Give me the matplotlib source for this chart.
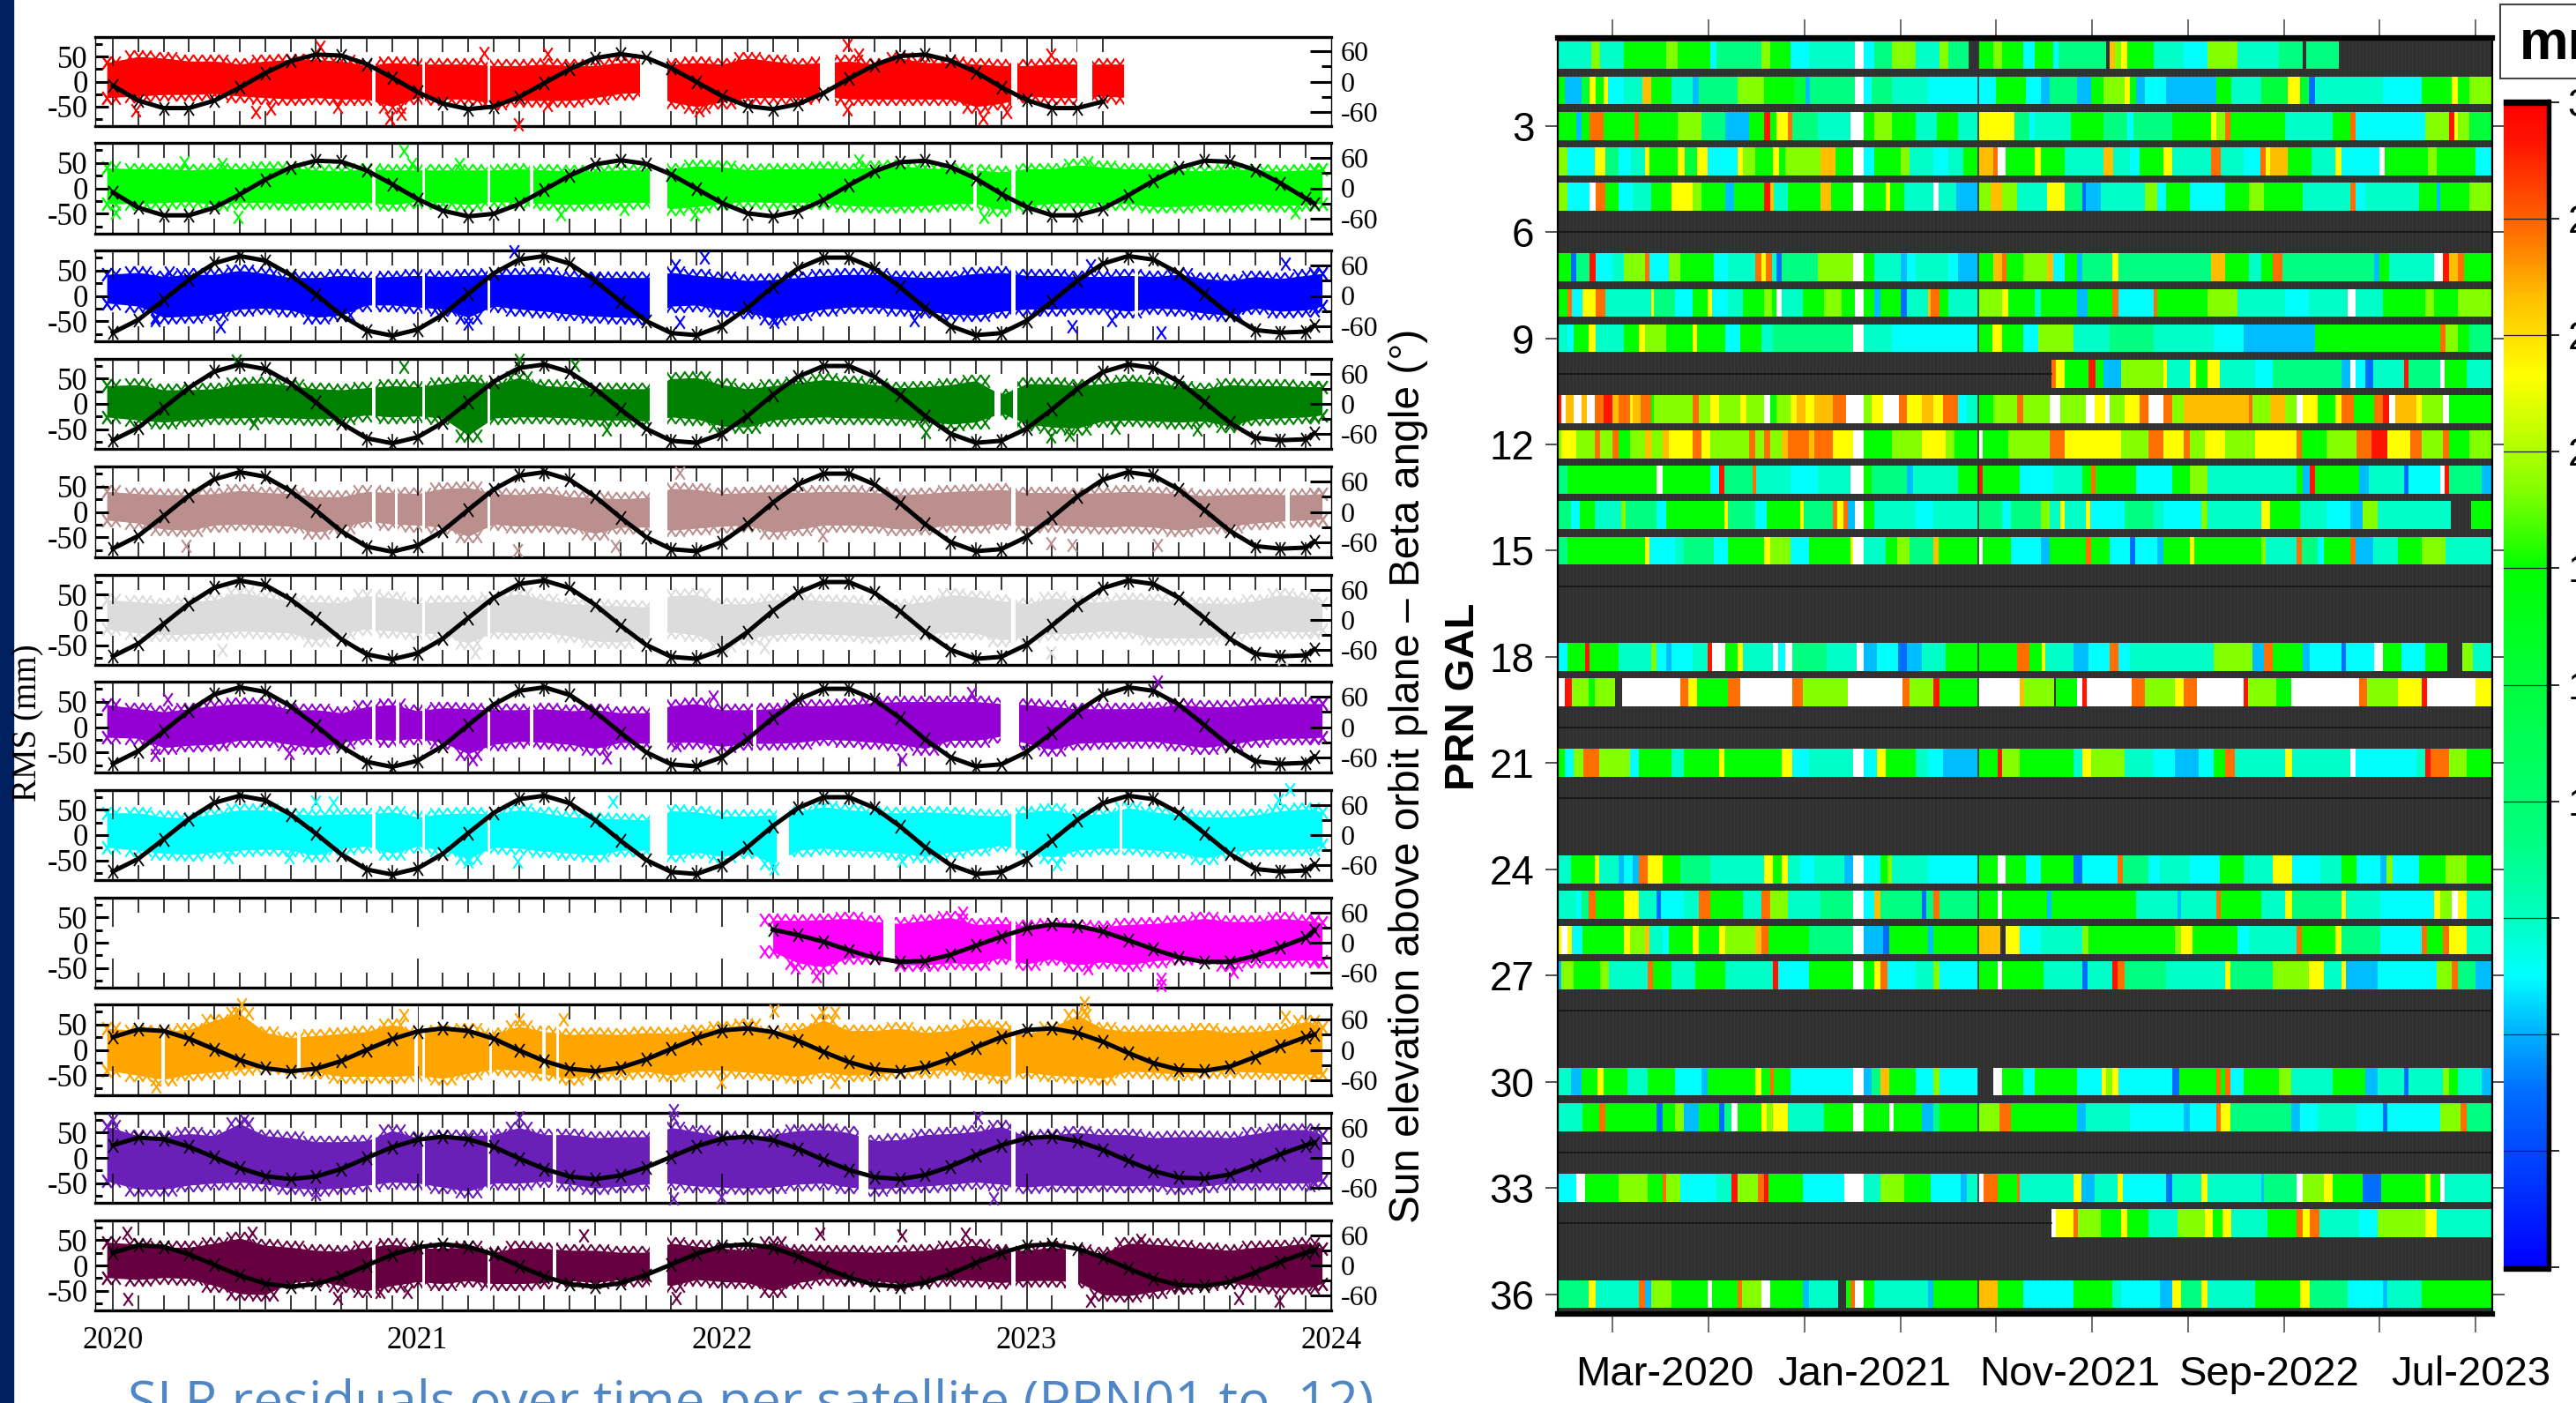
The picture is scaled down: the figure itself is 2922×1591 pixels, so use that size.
import numpy as np
import matplotlib
matplotlib.use("Agg")
import matplotlib.pyplot as plt
from matplotlib.colors import LinearSegmentedColormap, Normalize
from matplotlib.colorbar import Colorbar
from matplotlib.patches import Rectangle
from matplotlib.path import Path
from matplotlib.ticker import FixedLocator

W, H = 2922, 1591
nan = float("nan")

# residual panels
COLORS = ["#ff0000", "#00ff00", "#0000ff", "#008000", "#bc8f8f", "#dcdcdc",
          "#9400d3", "#00ffff", "#ff00ff", "#ffa500", "#6a1fb8", "#660040"]
PANEL_TOP = [42, 162, 284, 407, 529, 652, 773, 896, 1018, 1139, 1262, 1384]
PANEL_BOTTOM = [143, 265, 387, 509, 632, 754, 876, 998, 1120, 1242, 1364, 1486]

MONTHS = [2020 + k / 12 for k in range(49)]

BETA_A = [-8, -38, -53, -53, -38, -12, 17, 41, 54, 52, 35, 8, -21, -44, -55, -50, -31, -3, 25, 47, 55, 48, 27, -1, -29,
          -49, -55, -45, -23, 6, 33, 51, 54, 42, 19, -11, -37, -53, -53, -40, -14, 15, 40, 54, 52, 36, 10, -20, -30]
BETA_B = [-72, -47, -8, 32, 64, 78, 69, 41, 3, -38, -68, -78, -66, -37, 4, 44, 71, 78, 63, 30, -11, -49, -73, -77, -59,
          -24, 18, 54, 75, 75, 54, 18, -24, -59, -77, -73, -49, -11, 30, 63, 78, 71, 44, 4, -37, -67, -72, -70, -58]
BETA_C = [nan] * 26 + [26, 15, 2, -15, -30, -38, -36, -24, -6, 12, 28, 36, 33, 22, 5, -13, -29, -38, -38, -26, -9, 10, 25]
BETA_D = [25, 40, 37, 22, 1, -20, -36, -42, -37, -22, 0, 21, 36, 42, 37, 22, -1, -22, -37, -42, -35, -19, 2, 23, 38,
          42, 35, 18, -4, -24, -38, -42, -34, -17, 5, 25, 39, 42, 33, 16, -6, -26, -39, -41, -33, -14, 7, 25, 30]
BETA_P1 = BETA_A[:40] + [nan] * 9
PANEL_BETA = [BETA_P1, BETA_A, BETA_B, BETA_B, BETA_B, BETA_B, BETA_B, BETA_B, BETA_C, BETA_D, BETA_D, BETA_D]

TOP_1 = [38, 50, 47, 41, 41, 35, 41, 44, 44, 41, 32, 38, 35, 35, 35, 32, 32, 35, 32, 32, 38, 38, 35, 38, 35, 47, 41, 35, 38, 41, 35, 47, 38, 38, 35, 32, 32, 35, 35, 35, 35, 35, 35, 35, 35, 35, 35, 35, 35]
BOT_1 = [-32, -29, -26, -26, -24, -29, -32, -35, -32, -35, -35, -50, -32, -35, -35, -44, -38, -38, -38, -32, -24, -22, -41, -50, -41, -32, -32, -32, -29, -35, -35, -35, -35, -35, -50, -44, -29, -32, -32, -29, -32, -32, -32, -32, -32, -32, -32, -32, -32]
TOP_2 = [40, 38, 38, 36, 38, 38, 40, 40, 36, 34, 38, 36, 36, 36, 36, 36, 38, 36, 34, 34, 36, 36, 38, 44, 42, 36, 38, 38, 40, 38, 42, 44, 40, 38, 36, 32, 38, 38, 46, 42, 38, 38, 36, 34, 38, 36, 34, 36, 38]
BOT_2 = [-30, -30, -28, -26, -32, -28, -28, -30, -28, -28, -28, -32, -26, -28, -32, -26, -28, -30, -32, -30, -28, -28, -40, -36, -30, -26, -28, -28, -28, -34, -36, -36, -34, -30, -30, -42, -34, -30, -28, -30, -30, -36, -36, -32, -34, -30, -34, -32, -30]
TOP_3 = [42, 46, 38, 42, 42, 50, 44, 36, 36, 40, 36, 38, 40, 38, 40, 42, 42, 44, 38, 36, 36, 36, 46, 40, 36, 30, 32, 36, 40, 42, 42, 38, 36, 38, 44, 46, 40, 40, 38, 38, 40, 38, 42, 34, 30, 38, 34, 40, 44]
BOT_3 = [-14, -20, -42, -40, -36, -26, -24, -28, -42, -38, -18, -18, -22, -26, -42, -20, -26, -30, -36, -40, -42, -44, -20, -18, -28, -32, -44, -36, -26, -22, -22, -26, -30, -36, -38, -30, -26, -26, -24, -24, -30, -24, -26, -34, -38, -24, -30, -28, -20]
TOP_4 = [36, 38, 28, 28, 30, 40, 42, 36, 30, 28, 32, 36, 34, 40, 46, 38, 52, 36, 34, 30, 30, 30, 50, 52, 38, 30, 36, 42, 48, 44, 38, 32, 34, 38, 46, 18, 40, 40, 36, 40, 46, 42, 34, 30, 38, 36, 36, 34, 34]
BOT_4 = [-26, -32, -36, -32, -28, -28, -26, -28, -30, -28, -22, -26, -24, -28, -62, -28, -26, -26, -28, -32, -32, -34, -26, -30, -44, -46, -32, -28, -26, -28, -28, -30, -34, -40, -36, -18, -40, -46, -48, -34, -32, -34, -36, -34, -44, -30, -28, -26, -22]
TOP_5 = [40, 36, 34, 34, 36, 42, 38, 36, 30, 30, 40, 38, 36, 46, 48, 36, 34, 38, 30, 28, 26, 28, 46, 44, 36, 38, 40, 38, 40, 40, 38, 34, 36, 40, 42, 44, 38, 38, 36, 38, 40, 38, 36, 32, 34, 36, 34, 34, 36]
BOT_5 = [-16, -22, -34, -36, -26, -24, -26, -28, -40, -30, -18, -24, -26, -30, -48, -24, -28, -26, -30, -42, -30, -30, -36, -32, -28, -26, -40, -34, -26, -26, -28, -34, -32, -26, -28, -22, -28, -26, -28, -30, -28, -30, -36, -30, -28, -22, -18, -16, -14]
TOP_6 = [40, 36, 32, 36, 40, 54, 46, 36, 36, 34, 48, 44, 34, 36, 36, 44, 52, 40, 32, 30, 28, 26, 48, 50, 32, 32, 40, 42, 38, 36, 30, 30, 36, 50, 46, 38, 32, 44, 36, 36, 42, 40, 34, 34, 32, 38, 50, 44, 34]
BOT_6 = [-18, -26, -30, -28, -26, -22, -24, -26, -40, -26, -18, -22, -26, -28, -46, -24, -26, -24, -32, -42, -44, -32, -24, -30, -50, -36, -30, -26, -28, -30, -34, -30, -28, -24, -26, -40, -32, -28, -26, -22, -24, -36, -36, -36, -30, -24, -22, -24, -20]
TOP_7 = [44, 36, 30, 36, 42, 46, 46, 34, 34, 28, 40, 44, 32, 38, 36, 34, 34, 36, 32, 34, 28, 28, 42, 46, 34, 34, 36, 42, 42, 44, 48, 50, 50, 50, 50, 46, 44, 40, 36, 36, 36, 38, 44, 40, 40, 44, 46, 46, 46]
BOT_7 = [-20, -22, -40, -36, -34, -26, -26, -34, -40, -30, -22, -26, -22, -30, -52, -34, -28, -30, -34, -42, -30, -32, -30, -30, -38, -32, -32, -30, -24, -26, -30, -34, -42, -26, -26, -18, -32, -44, -32, -30, -28, -28, -34, -40, -34, -26, -22, -22, -20]
TOP_8 = [44, 44, 36, 34, 42, 50, 50, 42, 40, 42, 42, 46, 36, 42, 44, 42, 50, 44, 36, 34, 32, 30, 48, 46, 38, 38, 40, 46, 56, 50, 46, 44, 46, 44, 40, 38, 46, 50, 40, 42, 54, 46, 40, 36, 36, 40, 48, 52, 46]
BOT_8 = [-24, -30, -36, -38, -34, -30, -28, -30, -40, -26, -22, -36, -22, -30, -46, -24, -26, -32, -36, -40, -30, -30, -40, -34, -42, -34, -56, -30, -26, -30, -32, -36, -42, -34, -28, -20, -30, -44, -30, -26, -26, -30, -34, -46, -34, -28, -28, -28, -20]
TOP_9 = [nan] * 26 + [45, 44, 46, 48, 42, 38, 44, 50, 36, 38, 34, 36, 34, 32, 36, 38, 42, 48, 42, 42, 48, 44, 40]
BOT_9 = [nan] * 26 + [-18, -40, -48, -30, -30, -44, -44, -40, -42, -30, -42, -32, -44, -38, -44, -36, -32, -30, -44, -36, -36, -34, -36]
TOP_10 = [42, 38, 36, 40, 58, 72, 34, 24, 28, 32, 36, 50, 34, 38, 40, 32, 46, 36, 30, 32, 30, 34, 32, 38, 44, 50, 36, 40, 58, 38, 38, 42, 34, 38, 48, 44, 30, 44, 68, 42, 36, 38, 36, 40, 34, 36, 40, 56, 44]
BOT_10 = [-40, -50, -58, -48, -44, -38, -34, -36, -44, -52, -52, -52, -50, -56, -46, -38, -40, -48, -56, -48, -46, -42, -50, -40, -40, -44, -48, -52, -44, -50, -48, -44, -42, -38, -46, -52, -44, -50, -52, -56, -42, -44, -48, -44, -42, -44, -46, -48, -48]
TOP_11 = [62, 44, 42, 48, 44, 68, 44, 40, 32, 32, 34, 54, 40, 44, 44, 46, 60, 46, 46, 40, 42, 42, 60, 52, 42, 40, 46, 54, 56, 50, 34, 36, 46, 48, 52, 62, 42, 46, 50, 46, 46, 40, 42, 42, 40, 48, 56, 56, 46]
BOT_11 = [-46, -62, -62, -54, -50, -48, -52, -60, -62, -60, -54, -48, -50, -58, -66, -50, -50, -46, -52, -60, -56, -52, -50, -56, -58, -60, -58, -52, -50, -58, -62, -58, -56, -52, -48, -52, -58, -54, -56, -54, -56, -54, -60, -56, -50, -50, -50, -50, -46]
TOP_12 = [46, 42, 36, 36, 44, 54, 40, 36, 30, 28, 36, 42, 34, 34, 36, 26, 36, 34, 30, 30, 26, 26, 44, 38, 34, 30, 46, 30, 28, 28, 26, 28, 30, 36, 40, 30, 30, 36, 30, 24, 44, 42, 38, 34, 30, 36, 38, 44, 34]
BOT_12 = [-24, -28, -24, -26, -40, -56, -58, -34, -30, -40, -50, -40, -32, -36, -30, -36, -36, -34, -30, -34, -28, -30, -40, -28, -32, -34, -50, -34, -26, -28, -30, -36, -30, -28, -30, -34, -30, -30, -32, -58, -60, -52, -44, -36, -34, -40, -44, -44, -36]
TOPS = [TOP_1, TOP_2, TOP_3, TOP_4, TOP_5, TOP_6, TOP_7, TOP_8, TOP_9, TOP_10, TOP_11, TOP_12]
BOTS = [BOT_1, BOT_2, BOT_3, BOT_4, BOT_5, BOT_6, BOT_7, BOT_8, BOT_9, BOT_10, BOT_11, BOT_12]

# data gaps, in years after 2020
GAPS = [
    [(.85, .862), (1.015, 1.025), (1.23, 1.24), (1.73, 1.82), (2.32, 2.37), (2.95, 2.97), (3.165, 3.216), (3.32, 4.1)],
    [(.85, .862), (1.015, 1.025), (1.23, 1.24), (1.37, 1.38), (1.762, 1.82), (2.825, 2.835), (2.95, 2.965)],
    [(.85, .862), (1.015, 1.025), (1.23, 1.24), (1.762, 1.82), (2.95, 2.965), (3.355, 3.365)],
    [(.85, .862), (1.015, 1.025), (1.23, 1.24), (1.762, 1.82), (2.895, 2.915), (2.955, 2.97)],
    [(.85, .862), (.925, .935), (1.015, 1.025), (1.23, 1.24), (1.762, 1.82), (2.95, 2.965), (3.85, 3.865)],
    [(.85, .862), (1.015, 1.025), (1.23, 1.24), (1.762, 1.82), (2.95, 2.965)],
    [(.85, .862), (.93, .94), (1.015, 1.025), (1.23, 1.24), (1.37, 1.38), (1.762, 1.82), (2.1, 2.112), (2.915, 2.975)],
    [(.85, .862), (1.015, 1.025), (1.23, 1.24), (1.762, 1.82), (2.18, 2.22), (2.95, 2.965), (3.305, 3.315)],
    [(2.53, 2.567), (2.95, 2.965)],
    [(.16, .17), (.605, .615), (.99, 1.0), (1.015, 1.025), (1.235, 1.245), (1.41, 1.42), (1.455, 1.465), (2.95, 2.965)],
    [(.85, .862), (1.015, 1.025), (1.23, 1.24), (1.445, 1.455), (1.762, 1.82), (2.45, 2.48), (2.95, 2.965)],
    [(.85, .862), (1.015, 1.025), (1.23, 1.24), (1.445, 1.455), (1.762, 1.82), (2.95, 2.965), (3.13, 3.17)],
]

# points well outside the band: years after 2020, residual in mm
OUT_X = [
    [.68, 1.217, 1.427, 2.41, 2.45, 3.08, .076, .47, .517, .737, .91, .947, 1.33, 1.427, 1.925, 2.41, 2.856, 2.934],
    [.955, .98, .234, .36, 1.138, 2.45, 3.2, .41, .01, 1.47, 1.68, 1.91, 2.86, 3.88],
    [1.317, 1.943, 1.846, .186, 3.85, 3.21, .352, .14, 1.165, 1.86, 2.17, 2.63, 3.15, 3.28, 3.44],
    [.404, .955, 1.335, 1.518, 1.62, .464, 2.67, 3.08, 3.14, 3.29, 3.56],
    [1.86, .24, 1.327, 1.65, 3.43, 3.08, 3.15, 2.33],
    [.36, 1.19, 2.14, 3.08, 3.84],
    [3.43, 1.97, 2.82, .18, 1.18, .14, 1.62, 2.59, .58, 1.85],
    [3.865, .667, .724, 1.64, 3.825, .378, .58, 1.327, 2.17, 1.165, 2.59, 3.1],
    [2.79, 2.79, 2.31, 3.44, 3.44, 3.2, 3.68, 2.24],
    [.423, .404, 3.19, 3.19, 2.17, 2.33, 2.37, 1.335, 1.48, .955, 3.85, .142, 2.37, 1.996],
    [1.84, 1.84, 2.84, 1.335, 0, .43, 1.84, 1.996, 2.89, .666, 3.93],
    [.045, 1.545, 2.59, 2.8, 2.32, .457, 3.375, .05, 3.21, 3.83, 1.85, .737, .876, .968, 3.695],
]
OUT_Y = [
    [70, 58, 56, 73, 53, 53, -58, -61, -53, -50, -73, -64, -85, -47, -58, -56, -73, -61],
    [74, 48, 51, 48, 48, 54, 51, -57, -48, -51, -40, -51, -57, -48],
    [87, 75, 60, 46, 63, 60, -60, -48, -54, -51, -51, -48, -60, -48, -71],
    [85, 73, 88, 76, -50, -38, -56, -64, -61, -47, -50],
    [77, -67, -75, -67, -64, -61, -64, -46],
    [-60, -65, -54, -65, -77],
    [89, 60, 66, 54, -63, -54, -60, -63, -51, -36],
    [90, 67, 64, 67, 70, -44, -44, -53, -67, -53, -50, -58],
    [60, 45, -66, -72, -84, -51, -57, -48],
    [89, 74, 92, 77, 77, 74, 74, 60, 60, 68, 65, -72, -63, -63],
    [95, 81, 81, 81, 75, 75, -80, -77, -80, -71, -54],
    [65, 59, 59, 62, 62, 65, 50, -67, -70, -70, -64, -64, -52, -52, -64],
]

YEAR_LABELS = ["2020", "2021", "2022", "2023", "2024"]
YEARS = [2020, 2021, 2022, 2023, 2024]

# heat map: each stripe is a colour code and the position where it ends
ROW_STRIPES = {
    1: "t55 l70 t110 G180 l200 G255 c265 s340 l355 G390 c420 t497 W512 c530 s560 l600 t640 l655 s688 .705 G730 l745 G780 c800 G830 c840 s920 .925 o935 l945 y955 G1000 t1050 c1090 l1140 t1210 s1250 .1255 s1310 .1568",
    2: "G10 a38 g52 y62 G75 y83 c110 t140 o155 G190 t225 a235 s300 l345 G395 g415 a422 s497 W512 c525 s560 t620 c700 c735 G785 c810 a825 s870 a895 G915 l950 y960 G970 a985 c1020 a1105 G1130 t1180 g1225 y1245 g1260 b1270 t1385 c1450 G1500 y1510 G1530 l1568",
    3: "G30 a38 G52 O75 G128 O135 G200 l240 s280 a320 G345 r355 G365 y385 O392 s435 t490 W512 G530 l560 G600 t635 G670 t705 y765 s790 c800 t860 G915 s955 c965 s1030 G1095 y1105 l1120 O1128 G1220 t1300 G1330 O1338 c1400 c1455 l1495 r1505 y1510 l1530 g1568",
    4: "l15 c60 y78 s100 c122 t145 y152 G200 y212 g232 y250 c300 y310 l330 G360 y370 G380 l440 o465 G495 W512 c530 G575 l590 t630 c655 t680 G705 o730 O738 W750 G800 y810 G850 t915 o932 t960 c975 G1015 y1030 t1095 O1112 t1150 c1178 O1188 y1195 o1225 G1265 t1305 y1315 c1378 W1388 G1460 l1475 G1540 c1568",
    5: "l15 c52 W62 O78 G100 c125 t155 G190 y225 l240 G280 a295 G345 r355 o362 t385 G440 o458 G495 W512 G550 y557 G580 t630 W638 t668 a705 l725 o745 l770 t820 y850 s880 b886 a910 t985 l1005 c1020 G1060 c1120 G1160 l1185 G1225 G1250 t1330 O1338 c1355 t1445 G1475 a1480 G1530 l1568",
    7: "G20 b30 s52 r62 c90 t110 l145 O152 c185 l205 G260 c285 t330 O340 y348 O358 t365 b375 s435 l495 W512 G530 t575 a585 c600 t655 c670 a705 G730 o745 O752 G780 l820 o830 c850 G870 a880 s930 y940 s1095 o1120 G1160 t1180 G1200 O1215 s1370 a1378 G1395 t1470 W1485 r1495 o1510 O1520 G1568",
    8: "G15 O22 c40 y62 O78 t155 y160 s195 c225 G250 y258 c285 t310 G345 l358 G365 W375 t410 G445 l475 G497 W512 G530 a540 G575 b585 t620 o625 O640 G655 t705 l745 y755 G800 t810 G870 a888 G930 O940 c1000 O1006 G1090 l1140 t1165 t1220 c1260 t1325 W1338 t1385 G1455 l1470 G1510 l1568",
    9: "t15 c25 G50 y62 t110 G135 y145 l180 G225 y233 G280 c305 G340 t360 s435 s495 W512 t560 c665 c705 G728 y745 G780 c805 l865 t925 s1000 t1100 c1150 a1270 G1300 G1480 O1490 l1510 G1530 s1568",
    10: ".827 O835 y850 G890 r902 G915 a945 l1015 y1022 t1060 y1070 G1090 y1110 t1170 c1200 s1315 a1330 W1338 c1355 b1368 t1420 r1428 s1480 W1488 G1525 t1568",
    11: "r5 W12 o25 W38 o48 W60 O75 r90 o100 O120 y125 o138 O155 G160 l225 O235 l255 y270 l305 y315 l345 W355 G365 l390 y400 o415 y430 o460 O482 W512 l525 y545 W572 O585 y610 o630 y645 O670 c685 t705 G730 l770 O780 l825 W842 l885 W900 y918 W925 l950 y975 O990 W1015 O1030 l1050 o1090 o1160 O1165 l1195 o1220 l1240 W1250 y1275 G1305 y1315 O1335 G1370 O1385 r1395 W1405 o1440 y1450 l1485 W1495 G1568",
    12: "l5 y30 l60 O70 l90 O100 G120 l145 o155 l175 o185 y225 O240 y255 l320 O330 l345 O355 l375 o385 O420 o430 O460 y495 W512 G560 l610 y650 l665 G705 W712 G755 l825 O850 y870 y945 l990 O1015 y1050 O1060 l1085 y1120 l1170 y1240 O1248 G1290 l1340 O1365 r1392 y1430 O1450 l1485 O1495 G1530 l1568",
    13: "s15 G100 G165 W175 G255 c270 r278 s325 O332 t390 c435 t490 W512 G525 s585 a595 t670 G705 r712 G775 c830 t880 G895 O902 G970 c1005 c1030 G1060 l1090 t1240 G1250 a1262 r1270 G1345 a1360 t1420 b1427 c1480 W1488 r1495 s1550 a1568",
    14: "s20 c35 G60 t105 l112 s165 c180 G278 y285 s330 c350 G405 y412 s460 O468 y478 O485 a497 W512 G530 t600 c630 t705 s745 c760 s810 l825 t842 y850 t885 y893 c950 s1000 t1015 c1080 l1090 t1180 y1195 G1245 t1290 c1330 a1350 l1375 t1498 .1532 G1568",
    15: "s15 G145 y152 c195 t210 s260 c285 G345 y355 l390 c420 G490 y495 W512 t550 G568 l590 s630 o638 G705 W712 G760 c810 a825 G885 O895 G925 c960 b968 c1005 a1015 G1060 y1068 G1180 l1188 t1240 O1248 s1275 c1285 G1330 O1338 a1368 t1410 G1450 l1460 l1490 t1568",
    18: "c15 G45 r52 G100 t155 l165 c180 a190 c225 t250 r258 W280 G300 y310 t360 W368 c380 W392 s450 t500 W512 a535 c570 b585 a610 t650 G705 G770 O790 G812 y818 t865 a890 c925 O940 c960 t1100 l1165 a1185 O1200 G1250 a1262 c1315 b1322 c1370 W1385 G1415 c1455 G1492 .1517 l1535 t1568",
    19: "W10 r22 l50 G60 l95 .107 W205 O218 y232 G285 O305 W392 O410 l485 W578 O590 l630 r640 G705 W775 o782 l832 .835 G870 W880 r887 W962 O985 l1035 y1050 O1072 W1150 r1158 l1205 G1230 W1345 O1358 l1410 y1450 r1458 W1540 y1568",
    21: "G10 c25 l42 O68 l120 c135 G190 t210 G270 y278 G375 y392 c420 t495 W512 c535 y550 G600 t620 c645 a705 G738 r745 l775 G865 t880 y895 l925 l950 t1000 c1035 a1075 c1100 G1120 O1135 t1220 y1232 t1330 W1338 c1440 t1455 r1465 O1495 l1525 G1568",
    24: "t20 G60 y68 t100 a110 c125 a135 O150 y175 G205 s255 t345 y360 G375 y385 t405 c430 t480 a495 W512 c540 G552 l560 t620 c640 c705 G738 W750 G785 c810 G865 b880 c938 O948 s990 c1010 t1060 c1110 G1150 t1200 y1232 c1280 t1315 G1340 c1380 a1390 l1400 c1445 G1490 l1525 G1568",
    25: "t30 c38 s50 O62 G110 y135 t165 b172 c210 t235 O255 G310 t340 O355 l385 t440 s495 W512 c530 o540 s610 b618 s630 O640 s705 G738 W745 G820 a828 G970 t1040 a1045 t1105 O1112 G1180 t1220 y1232 s1315 y1322 t1380 c1470 y1480 l1500 W1510 y1525 t1568",
    26: "y5 W15 y22 c40 G110 y120 l145 o152 t175 c185 G225 y235 G270 y280 l330 o340 O352 G420 s495 W512 a545 b555 G620 a630 G705 o742 .750 y775 c810 t880 l890 G1035 l1045 y1065 G1140 c1160 t1240 O1248 G1305 y1315 s1380 c1450 O1458 G1485 O1495 y1525 t1568",
    27: "a5 l25 G70 l85 t150 O158 G190 t230 G280 t360 r368 c420 G495 W512 G530 y540 O552 c600 t630 l640 c705 G738 W745 G815 t880 b888 t930 r938 O950 s1020 t1120 y1128 s1200 l1260 y1285 t1315 y1322 a1375 c1475 l1500 O1510 s1540 a1568",
    30: "t20 a38 G65 y75 G115 t150 G195 c240 a250 G330 y340 G355 O362 G390 c495 W512 a525 s540 o555 G600 c630 l640 c705 .730 W745 G780 c800 G870 c912 y920 l930 y940 c1030 b1042 G1105 O1112 G1120 O1128 c1150 G1210 l1230 t1300 G1355 a1375 t1420 b1428 t1485 l1495 G1510 t1550 a1568",
    31: "t40 G68 O78 G165 b175 G195 l210 a235 G270 b278 s290 W300 G340 y350 l360 y385 t445 G495 W512 G555 W562 G610 a630 s640 G705 l740 O760 G870 a885 t960 c1050 a1060 c1105 O1112 y1128 s1230 a1245 c1275 t1340 c1385 b1392 c1480 l1515 O1525 s1568",
    33: "c30 W45 G100 l150 G175 O180 l205 c265 t290 r300 l335 O345 r352 G410 c480 W512 t540 l580 G625 c675 a685 t705 W713 O738 G770 O775 t865 y878 a900 t938 y948 c1020 b1030 t1080 y1090 t1180 a1185 s1240 W1250 l1285 y1300 G1350 b1382 G1455 y1465 G1480 W1488 t1568",
    34: ".827 W835 y865 O872 l910 G945 y955 G990 t1040 l1085 y1098 G1115 y1130 t1190 G1240 O1250 y1262 O1278 t1345 c1375 l1455 y1475 t1568",
    36: "s50 y62 t135 O145 a155 l190 G250 W257 G300 O308 l340 W355 G410 a420 t470 .482 G490 O498 W512 G530 t620 a630 G705 o738 G780 c865 G930 t945 c1010 a1030 y1045 s1080 y1090 t1170 G1245 y1262 s1325 c1385 a1392 t1450 G1568",
}
CODE_VALUES = {"b": 4.5, "a": 6.3, "c": 7.5, "t": 8.8, "s": 11, "g": 15, "G": 18, "l": 20,
               "y": 23, "o": 25, "O": 26.7, "r": 29, "W": 99, ".": nan}
EMPTY_LINES = {6: 1568, 10: 827, 16: 1568, 20: 1568, 22: 1568, 28: 1568, 32: 1568, 34: 827}
HEAT_TICKS = [91, 252, 413, 574, 735, 896, 1057, 1218, 1379, 1540]
ROW_TICKS = [3, 6, 9, 12, 15, 18, 21, 24, 27, 30, 33, 36]
DATE_LABELS = ["Mar-2020", "Jan-2021", "Nov-2021", "Sep-2022", "Jul-2023"]
DATE_X_PX = [1888, 2115, 2348, 2574, 2803]

CBAR_STOPS = [(0, "#0000ff"), (4.5, "#006eff"), (6.3, "#00beff"), (7.5, "#00ffff"), (8.8, "#00ffc8"),
              (11, "#00ff80"), (15, "#00ff3c"), (18, "#00ff00"), (20, "#82ff00"), (23, "#ffff00"),
              (25, "#ffbe00"), (26.7, "#ff6e00"), (29, "#ff1400"), (30, "#ff0000")]
CBAR_TICKS = [0, 3, 6, 9, 12, 15, 18, 21, 24, 27, 30]
CBAR_LABELS = ["", "", "", "", "12", "15", "18", "21", "24", "27", "30"]

SERIF = "Liberation Serif"
SANS = "Liberation Sans"
BAR_HALF = 0.395

# the original plot is stretched upward, so its crosses are taller than wide
TALL_X = Path([(-0.72, -1), (0.72, 1), (-0.72, 1), (0.72, -1)],
              [Path.MOVETO, Path.LINETO, Path.MOVETO, Path.LINETO])
TEETH = [-1 / 36, 0, 1 / 36]


def add_axes_px(fig, left, top, right, bottom):
    return fig.add_axes([left / W, 1 - bottom / H, (right - left) / W, (bottom - top) / H])


def fig_text(fig, x, y, s, **kw):
    return fig.text(x / W, 1 - y / H, s, **kw)


def residual_panel(fig, i):
    ax = add_axes_px(fig, 108, PANEL_TOP[i], 1510, PANEL_BOTTOM[i])
    months = np.array(MONTHS)
    env_x = months.copy()
    env_x[0], env_x[-1] = 2019.98, 2023.97
    top = np.array(TOPS[i], dtype=float)
    bot = np.array(BOTS[i], dtype=float)
    ax.fill_between(env_x, bot, top, color=COLORS[i], lw=0, zorder=1)
    for shift in TEETH:
        edge_x = np.clip(env_x + shift, 2019.98, 2023.97)
        ax.plot(edge_x, top, ls="none", marker=TALL_X, ms=10.5, mew=1.5, color=COLORS[i], zorder=1)
        ax.plot(edge_x, bot, ls="none", marker=TALL_X, ms=10.5, mew=1.5, color=COLORS[i], zorder=1)
    for start, end in GAPS[i]:
        ax.axvspan(2020 + start, 2020 + end, color="white", lw=0, zorder=2)
    out_x = [2020 + t for t in OUT_X[i]]
    ax.plot(out_x, OUT_Y[i], ls="none", marker=TALL_X, ms=10.5, mew=1.5, color=COLORS[i], zorder=3, clip_on=False)
    beta_x = months.copy()
    beta_x[-1] = 2023.945
    ax.plot(beta_x, PANEL_BETA[i], color="black", lw=3.6, marker=TALL_X, ms=11, mew=1.3, zorder=4)

    ax.set_xlim(2019.942, 2024)
    ax.set_ylim(-89, 89)
    ax.set_xticks(YEARS)
    ax.xaxis.set_minor_locator(FixedLocator(MONTHS))
    ax.tick_params(axis="x", which="major", direction="in", top=True, bottom=True, length=24, width=1.1)
    ax.tick_params(axis="x", which="minor", direction="in", top=True, bottom=True, length=12, width=1.1)
    if i == 11:
        ax.set_xticklabels(YEAR_LABELS, family=SERIF, fontsize=25)
        ax.tick_params(axis="x", which="major", pad=13)
    else:
        ax.set_xticklabels([])
    ax.set_yticks([-50, 0, 50])
    ax.set_yticklabels(["-50", "0", "50"], family=SERIF, fontsize=25)
    ax.set_yticks([-75, -25, 25, 75], minor=True)
    ax.tick_params(axis="y", which="major", direction="in", length=11, width=2.2, pad=6)
    ax.tick_params(axis="y", which="minor", direction="in", length=6, width=2.2)
    ax.spines["top"].set_linewidth(2.4)
    ax.spines["bottom"].set_linewidth(2.4)
    ax.spines["left"].set_linewidth(1)
    ax.spines["right"].set_linewidth(1)

    right = ax.twinx()
    right.set_ylim(-89, 89)
    right.set_yticks([-60, 0, 60])
    right.set_yticklabels(["-60", "0", "60"], family=SERIF, fontsize=23)
    right.set_yticks([-30, 30], minor=True)
    right.tick_params(axis="y", which="major", direction="in", length=17, width=2.2, pad=8)
    right.tick_params(axis="y", which="minor", direction="in", length=8, width=2.2)
    for s in right.spines.values():
        s.set_visible(False)


def heat_row(ax, row, stripes, cmap, norm):
    edges = [0]
    values = []
    for token in stripes.split():
        values.append(CODE_VALUES[token[0]])
        edges.append(float(token[1:]))
    mesh = np.ma.masked_invalid(np.array([values]))
    ax.pcolormesh(edges, [row - BAR_HALF, row + BAR_HALF], mesh, cmap=cmap, norm=norm,
                  shading="flat", zorder=2)


def heat_map(fig, cmap, norm):
    ax = add_axes_px(fig, 1767, 43, 2827, 1490)
    ax.set_facecolor("#303030")
    ax.set_xlim(-1.5, 1568)
    ax.set_ylim(36.56, 0.517)
    ax.vlines(np.arange(0, 1568, 6), 0.517, 36.56, color="#383838", lw=0.7, zorder=1)
    for row, stripes in ROW_STRIPES.items():
        heat_row(ax, row, stripes, cmap, norm)
    for row, end in EMPTY_LINES.items():
        ax.plot([0, end], [row, row], color="#151515", lw=1.2, zorder=3)
    for row in ROW_STRIPES:
        if row not in (10, 34):
            ax.plot([705, 705], [row - BAR_HALF, row + BAR_HALF], color="#303030", lw=1.2, zorder=3)

    ax.set_xticks(HEAT_TICKS)
    ax.set_xticklabels([])
    ax.tick_params(axis="x", direction="out", top=True, bottom=True, length=15, width=1.2, color="#555555")
    ax.set_yticks(ROW_TICKS)
    ax.set_yticklabels([str(r) for r in ROW_TICKS], family=SANS, fontsize=33)
    ax.tick_params(axis="y", direction="out", left=True, right=True, length=10, width=1.2,
                   color="#333333", pad=9)
    ax.spines["top"].set_linewidth(4.5)
    ax.spines["bottom"].set_linewidth(4.5)
    ax.spines["left"].set_linewidth(1.6)
    ax.spines["right"].set_linewidth(1.6)
    for x, label in zip(DATE_X_PX, DATE_LABELS):
        fig_text(fig, x, 1559, label, family=SANS, fontsize=34, ha="center", va="center")


def color_bar(fig, cmap, norm):
    cax = add_axes_px(fig, 2840, 116, 2892, 1437)
    sm = plt.cm.ScalarMappable(norm=norm, cmap=cmap)
    bar = Colorbar(cax, sm, orientation="vertical", extend="neither")
    bar.set_ticks(CBAR_TICKS)
    bar.set_ticklabels(CBAR_LABELS)
    cax.tick_params(axis="y", which="major", right=True, length=8, width=1.2, pad=7, labelsize=32)
    for label in cax.get_yticklabels():
        label.set_family(SANS)
        label.set_clip_on(True)
    for tick in CBAR_TICKS:
        cax.axhline(tick, color="#222222", lw=0.9)
    bar.outline.set_visible(False)
    fig.add_artist(Rectangle((2840 / W, 1 - 119 / H), 52 / W, 6 / H, color="black", transform=fig.transFigure))
    fig.add_artist(Rectangle((2840 / W, 1 - 1441 / H), 52 / W, 5 / H, color="black", transform=fig.transFigure))
    fig.add_artist(Rectangle((2889 / W, 1 - 1441 / H), 4 / W, 1328 / H, color="black", transform=fig.transFigure))


def main():
    fig = plt.figure(figsize=(W / 100, H / 100), dpi=100, facecolor="white")
    fig.add_artist(Rectangle((0, 0), 15 / W, 1, color="#002060", transform=fig.transFigure))

    for i in range(12):
        residual_panel(fig, i)

    fig_text(fig, 32, 820, "RMS (mm)", family=SERIF, fontsize=28, rotation=90, ha="center", va="center")
    fig_text(fig, 1597, 880, "Sun elevation above orbit plane \u2013 Beta angle (\u00b0)", family=SANS,
             fontsize=34.4, rotation=90, ha="center", va="center")
    fig_text(fig, 852, 1563, "SLR residuals over time per satellite (PRN01 to  12)", family="Open Sans",
             fontsize=43.5, color="#4f86c6", ha="center", va="top")

    cmap = LinearSegmentedColormap.from_list("rms", [(v / 30, c) for v, c in CBAR_STOPS], N=512)
    cmap.set_over("white")
    norm = Normalize(0, 30)
    heat_map(fig, cmap, norm)
    color_bar(fig, cmap, norm)

    fig_text(fig, 1660, 790, "PRN GAL", family=SANS, fontweight="bold", fontsize=34, rotation=90,
             ha="center", va="center")
    fig.add_artist(Rectangle((2836 / W, 1 - 89 / H), 100 / W, 84 / H, facecolor="white", edgecolor="#444444",
                             lw=1.5, transform=fig.transFigure))
    fig_text(fig, 2858, 67, "mm", family=SANS, fontweight="bold", fontsize=45, va="baseline")

    fig.savefig("out.png", dpi=100)
    plt.close(fig)


main()
